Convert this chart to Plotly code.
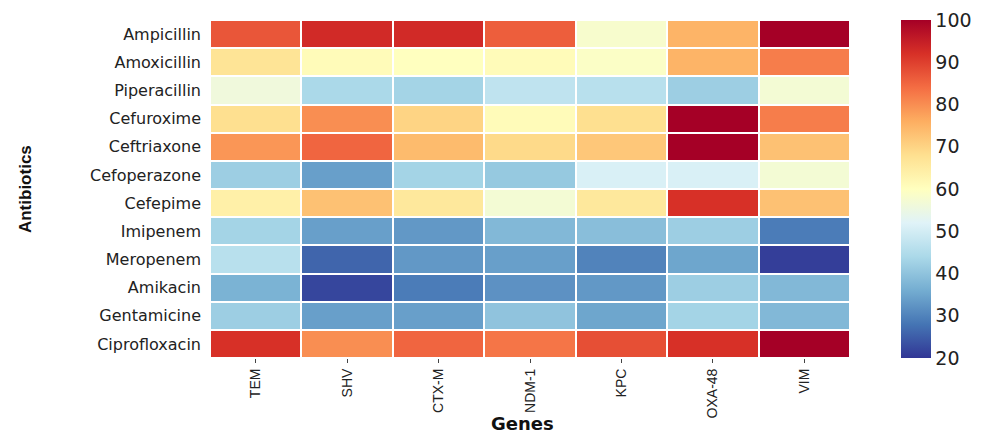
import plotly.graph_objects as go

genes = ["TEM", "SHV", "CTX-M", "NDM-1", "KPC", "OXA-48", "VIM"]
antibiotics = ["Ampicillin", "Amoxicillin", "Piperacillin", "Cefuroxime", "Ceftriaxone",
               "Cefoperazone", "Cefepime", "Imipenem", "Meropenem", "Amikacin",
               "Gentamicine", "Ciprofloxacin"]

ampicillin    = [87, 93, 93, 86, 58, 75, 100]
amoxicillin   = [67, 61, 60, 61, 59, 75, 82]
piperacillin  = [56, 44, 43, 47, 46, 42, 57]
cefuroxime    = [68, 80, 70, 61, 68, 100, 82]
ceftriaxone   = [79, 85, 74, 69, 72, 100, 73]
cefoperazone  = [42, 34, 43, 41, 51, 51, 57]
cefepime      = [64, 73, 66, 57, 66, 92, 73]
imipenem      = [43, 34, 33, 38, 39, 42, 29]
meropenem     = [46, 26, 33, 34, 30, 35, 21]
amikacin      = [37, 22, 29, 32, 33, 42, 38]
gentamicine   = [42, 34, 34, 40, 35, 43, 38]
ciprofloxacin = [92, 80, 85, 83, 88, 92, 100]

z = [ampicillin, amoxicillin, piperacillin, cefuroxime, ceftriaxone, cefoperazone,
     cefepime, imipenem, meropenem, amikacin, gentamicine, ciprofloxacin]

colorbar_ticks = [20, 30, 40, 50, 60, 70, 80, 90, 100]

fig = go.Figure(go.Heatmap(
    z=z, x=genes, y=antibiotics,
    colorscale="RdYlBu", reversescale=True, zmin=20, zmax=100,
    xgap=2, ygap=2,
    colorbar=dict(
        x=1.064, xanchor="left", thickness=30, len=1.0, lenmode="fraction",
        y=0.5, yanchor="middle", outlinewidth=0, ticks="", ypad=0,
        tickvals=colorbar_ticks, ticktext=[str(v) for v in colorbar_ticks],
        tickfont=dict(family="DejaVu Sans", size=19, color="#222"),
    ),
))

fig.update_layout(
    width=973, height=428,
    margin=dict(l=202, r=131, t=12, b=78, autoexpand=False),
    paper_bgcolor="white", plot_bgcolor="white",
    xaxis=dict(
        tickangle=-90, ticks="outside", ticklen=4, tickcolor="#444",
        tickfont=dict(family="Liberation Sans Narrow, Liberation Sans", size=14, color="#222"),
        showgrid=False, zeroline=False, automargin=False,
    ),
    yaxis=dict(
        autorange="reversed", ticks="", ticklabelstandoff=8,
        tickfont=dict(family="DejaVu Sans", size=16, color="#222"),
        showgrid=False, zeroline=False, automargin=False,
    ),
    annotations=[
        dict(
            text="<b>Antibiotics</b>", xref="paper", yref="paper",
            x=-0.289, y=0.5, xanchor="center", yanchor="middle", textangle=-90,
            showarrow=False,
            font=dict(family="Liberation Sans Narrow, Liberation Sans", size=17, color="#111"),
        ),
        dict(
            text="<b>Genes</b>", xref="paper", yref="paper",
            x=0.488, y=-0.195, xanchor="center", yanchor="middle",
            showarrow=False,
            font=dict(family="DejaVu Sans", size=18, color="#111"),
        ),
    ],
)

fig.write_html("out.html")
